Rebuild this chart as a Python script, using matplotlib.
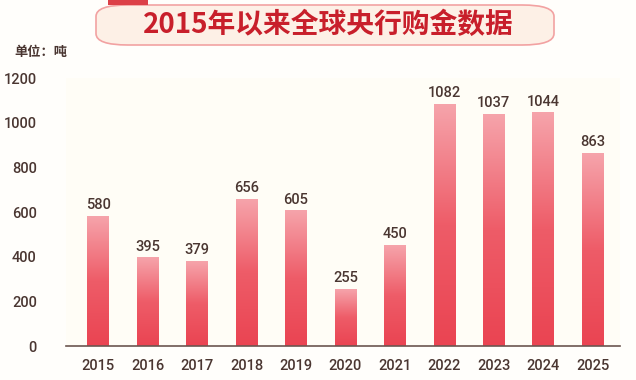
import numpy as np
import matplotlib
matplotlib.use("Agg")
import matplotlib.pyplot as plt
from matplotlib.colors import LinearSegmentedColormap
from matplotlib.patches import FancyBboxPatch, Rectangle

plt.rcParams['font.family'] = ['Noto Sans CJK SC', 'DejaVu Sans']
num_font = ['Roboto', 'Noto Sans CJK SC']

years = ['2015', '2016', '2017', '2018', '2019', '2020',
         '2021', '2022', '2023', '2024', '2025']
tonnes = [580, 395, 379, 656, 605, 255, 450, 1082, 1037, 1044, 863]
title = '2015年以来全球央行购金数据'
unit = '单位：吨'

text_color = '#4a3631'
bg = '#fffdf6'

fig = plt.figure(figsize=(6.36, 3.8), dpi=100)
fig.patch.set_facecolor('#fffefb')
ax = fig.add_axes([66 / 636, 1 - 346 / 380, 554 / 636, 268 / 380])
ax.set_facecolor(bg)

# gradient bars: light pink on top, red at the bottom
cmap = LinearSegmentedColormap.from_list('bar', ['#ea4452', '#ee5c68', '#f6a4ab'])
grad = np.linspace(0, 1, 256).reshape(-1, 1)
x = np.arange(len(years))
w = 0.44
for xi, v in zip(x, tonnes):
    ax.imshow(grad, cmap=cmap, origin='lower', aspect='auto',
              extent=(xi - w / 2, xi + w / 2, 0, v), zorder=2)
    ax.text(xi, v + 18, str(v), ha='center', va='bottom', fontsize=10.5,
            color=text_color, fontweight='medium', family=num_font)

ax.set_xlim(-0.65, len(years) - 0.45)
ax.set_ylim(0, 1200)
ax.set_xticks(x)
ax.set_xticklabels(years)
ax.set_yticks(range(0, 1201, 200))
ax.tick_params(length=0, labelsize=10.5, labelcolor=text_color)
ax.tick_params(axis='x', pad=9)
ax.tick_params(axis='y', pad=21)
for lbl in ax.get_xticklabels() + ax.get_yticklabels():
    lbl.set_fontweight('medium')
    lbl.set_family(num_font)
for s in ['top', 'right', 'left']:
    ax.spines[s].set_visible(False)
ax.spines['bottom'].set_color('#6b5550')
ax.spines['bottom'].set_linewidth(1.2)

# title banner
box = FancyBboxPatch((96 / 636, 1 - 45 / 380), 458 / 636, 40 / 380,
                     boxstyle='round,pad=0,rounding_size=0.05',
                     transform=fig.transFigure, facecolor='#fdf0e6',
                     edgecolor='#f2a2a2', linewidth=1.2, mutation_aspect=380 / 636)
fig.patches.append(box)
fig.patches.append(Rectangle((108 / 636, 1 - 5 / 380), 40 / 636, 5 / 380,
                             transform=fig.transFigure, facecolor='#dc4048',
                             edgecolor='none'))
fig.text(328 / 636, 1 - 25 / 380, title, ha='center', va='center',
         fontsize=20, fontweight='bold', color='#c81f2b')
fig.text(14 / 636, 1 - 52 / 380, unit, ha='left', va='center',
         fontsize=9.5, fontweight='bold', color=text_color)

fig.savefig('out.png', dpi=100, facecolor=fig.get_facecolor())
